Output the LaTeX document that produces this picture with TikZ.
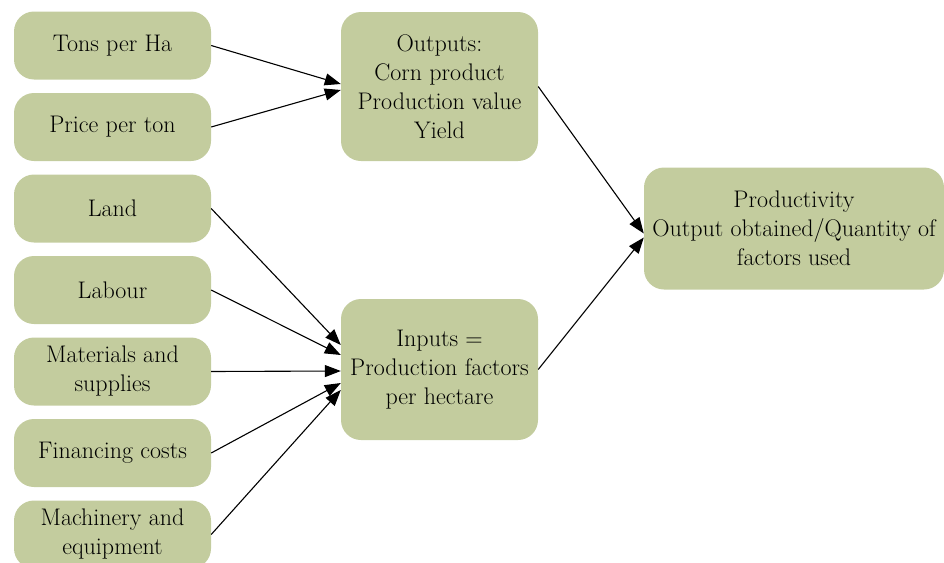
\documentclass[tikz,border=0pt]{standalone}
\usepackage{fontspec}
\usetikzlibrary{arrows.meta}
\definecolor{boxgreen}{RGB}{195,204,158}
\begin{document}
\begin{tikzpicture}[x=1pt,y=-1pt,
  box/.style={fill=boxgreen, rounded corners=20pt, align=center, minimum width=197pt, minimum height=68pt, inner sep=2pt, font=\fontsize{24}{29}\selectfont},
  link/.style={-{Triangle[length=16pt,width=12pt]}, line width=1.1pt}]
\useasboundingbox (0,0) rectangle (944,562);
\node[box] (tons) at (112.5,45.5){Tons per Ha};
\node[box] (price) at (112.5,127){Price per ton};
\node[box] (land) at (112.5,208.5){Land};
\node[box] (labour) at (112.5,290){Labour};
\node[box] (mat) at (112.5,371.5){Materials and\\supplies};
\node[box] (fin) at (112.5,453){Financing costs};
\node[box] (mach) at (112.5,534.5){Machinery and\\equipment};
\node[box, minimum height=149pt] (out) at (439.5,86.5){Outputs:\\Corn product\\Production value\\Yield};
\node[box, minimum height=141pt] (inp) at (439.5,369.5){Inputs =\\Production factors\\per hectare};
\node[box, minimum width=300pt, minimum height=122pt] (prod) at (794,228.5){Productivity\\Output obtained/Quantity of\\factors used};
\draw[link] (tons.east) -- ([yshift=2.5pt]out.west);
\draw[link] (price.east) -- ([yshift=-3.5pt]out.west);
\draw[link] (land.east) -- ([yshift=24.5pt]inp.west);
\draw[link] (labour.east) -- ([yshift=14.5pt]inp.west);
\draw[link] (mat.east) -- ([yshift=-1.5pt]inp.west);
\draw[link] (fin.east) -- ([yshift=-13.5pt]inp.west);
\draw[link] (mach.east) -- ([yshift=-20.5pt]inp.west);
\draw[link] (out.east) -- ([yshift=-5pt]prod.west);
\draw[link] (inp.east) -- ([yshift=-9pt]prod.west);
\end{tikzpicture}
\end{document}
